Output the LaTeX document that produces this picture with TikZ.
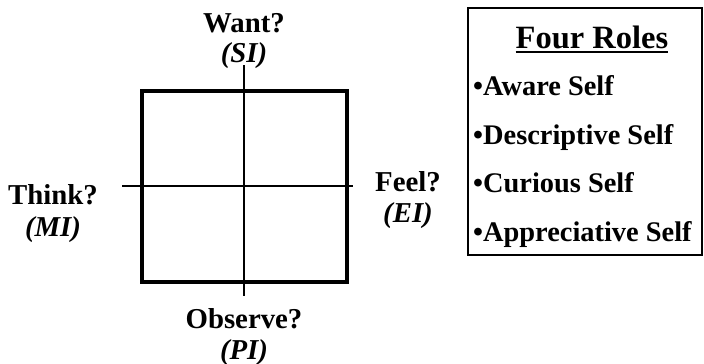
\documentclass[tikz,border=0pt]{standalone}
\usepackage{fontspec}
\setmainfont{Liberation Serif}
\begin{document}
\begin{tikzpicture}[x=1pt,y=-1pt,
  lbl/.style={anchor=base,inner sep=0pt,font=\fontsize{28.8}{31}\selectfont\bfseries},
  sub/.style={anchor=base,inner sep=0pt,font=\fontsize{28.8}{31}\selectfont\bfseries\itshape},
  item/.style={anchor=base west,inner sep=0pt,font=\fontsize{28.4}{31}\selectfont\bfseries},
  quad/.style={draw,line width=3.2pt},
  axis/.style={line width=1.1pt}]
\useasboundingbox (0,0) rectangle (704,364);
% square
\node[quad,minimum width=205pt,minimum height=191pt,inner sep=0pt] (sq) at (244.5,186.5) {};
\coordinate (vt) at (244,65);
\coordinate (vb) at (244,296);
\coordinate (hl) at (122,186);
\coordinate (hr) at (353,186);
\draw[axis] (vt) -- (vb);
\draw[axis] (hl) -- (hr);
% labels
\node[lbl] (want) at (244,32) {Want?};
\node[sub] (si) at (244,62) {(SI)};
\node[lbl] (think) at (53,204) {Think?};
\node[sub] (mi) at (53,236) {(MI)};
\node[lbl] (feel) at (408,191) {Feel?};
\node[sub] (ei) at (408,222) {(EI)};
\node[lbl] (obs) at (244,328) {Observe?};
\node[sub] (pi) at (244,359) {(PI)};
% roles box
\draw[line width=1.8pt] (468,8) rectangle (702,255);
\node[anchor=base,inner sep=0pt,font=\fontsize{32.5}{35}\selectfont\bfseries] (title) at (592,48) {Four Roles};
\draw[line width=1.6pt] (title.base west) ++(0,4) -- ([yshift=-4pt]title.base east);
\node[item] (r1) at (473,95) {•Aware Self};
\node[item] (r2) at (473,144) {•Descriptive Self};
\node[item] (r3) at (473,192) {•Curious Self};
\node[item] (r4) at (473,241) {•Appreciative Self};
\end{tikzpicture}
\end{document}
